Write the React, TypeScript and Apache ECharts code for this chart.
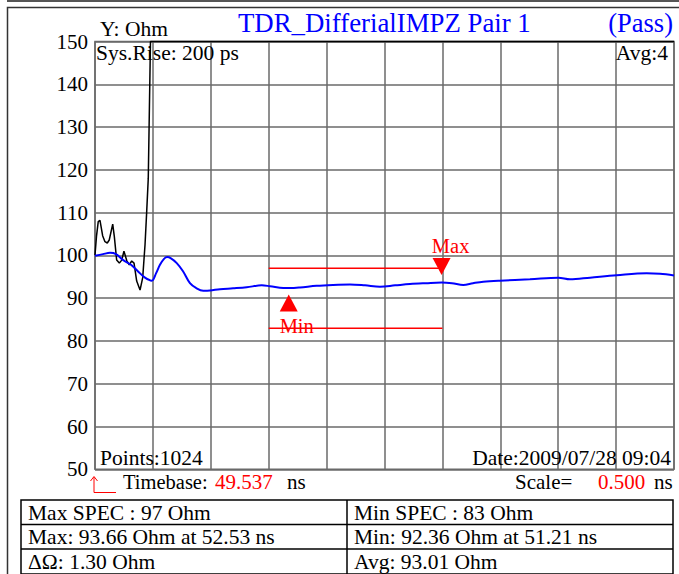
import React, { useEffect, useRef } from "react";
import * as echarts from "echarts";

// ---- data ----
const timebase = 49.537; // ns, left edge of plot
const scaleNs = 0.5; // ns per division
const divisions = 10;
const yMin = 50;
const yMax = 150;
const yStep = 10;

const blueTimes = [
  49.537, 49.606, 49.667, 49.718, 49.781, 49.848, 49.911, 49.969, 50.027, 50.064,
  50.098, 50.133, 50.161, 50.193, 50.243, 50.297, 50.357, 50.409, 50.472, 50.53,
  50.616, 50.729, 50.847, 50.977, 51.048, 51.163, 51.221, 51.307, 51.451, 51.592,
  51.739, 51.869, 51.998, 52.128, 52.257, 52.395, 52.531, 52.62, 52.717, 52.801,
  52.89, 53.034, 53.293, 53.538, 53.639, 53.812, 54.042, 54.301, 54.416, 54.537,
];
const blueValues = [
  99.9, 100.3, 100.6, 100.3, 98.9, 97.8, 96.2, 94.8, 94.1, 95.8,
  97.8, 99.2, 99.6, 99.3, 98.2, 96.3, 93.5, 92.4, 91.75, 91.8,
  92.1, 92.3, 92.55, 93.0, 92.8, 92.4, 92.36, 92.5, 92.9, 93.1,
  93.2, 93.0, 92.7, 93.0, 93.3, 93.5, 93.66, 93.5, 93.1, 93.5,
  93.85, 94.1, 94.4, 94.8, 94.4, 94.8, 95.35, 95.8, 95.7, 95.3,
];

const blackTimes = [
  49.537, 49.55, 49.565, 49.58, 49.603, 49.623, 49.643, 49.66, 49.69, 49.704,
  49.724, 49.747, 49.768, 49.787, 49.811, 49.833, 49.854, 49.874, 49.897, 49.926,
  49.949, 49.969, 49.983, 49.997, 50.016, 54.537,
];
const blackValues = [
  100.1, 104.5, 107.9, 108.2, 104.6, 103.2, 102.9, 103.6, 107.3, 104.4,
  98.9, 98.2, 98.9, 101.0, 98.8, 97.8, 98.7, 98.2, 94.0, 91.9,
  94.8, 102.5, 110.0, 118.0, 150, 150,
];

const maxSpec = 97;
const minSpec = 83;
const specStart = 51.037;
const specEnd = 52.537;
const maxPoint = [52.53, 93.66];
const minPoint = [51.21, 92.36];

const FONT = "'Liberation Serif', 'Times New Roman', serif";

function App() {
  const ref = useRef<HTMLDivElement>(null);
  useEffect(() => {
    if (!ref.current) return;
    const chart = echarts.init(ref.current, undefined, { renderer: "svg" });
    const off = (t: number) => +(t - timebase).toFixed(4);
    const blue = blueTimes.map((t, i) => [off(t), blueValues[i]]);
    const black = blackTimes.map((t, i) => [off(t), blackValues[i]]);
    const gridColor = "#6a6a6a";

    const txt = (
      text: string,
      x: number,
      y: number,
      opts: { size?: number; color?: string; align?: string } = {}
    ) => ({
      type: "text",
      x,
      y,
      silent: true,
      z: 10,
      style: {
        text,
        fontSize: opts.size || 21.5,
        fontFamily: FONT,
        fill: opts.color || "#000",
        align: opts.align || "left",
        verticalAlign: "middle",
      },
    });

    chart.setOption({
      animation: false,
      backgroundColor: "#fff",
      textStyle: { fontFamily: FONT },
      grid: {
        left: 95,
        top: 41.5,
        width: 579,
        height: 427.8,
        show: true,
        borderColor: gridColor,
        borderWidth: 1.5,
      },
      xAxis: {
        type: "value",
        min: 0,
        max: scaleNs * divisions,
        interval: scaleNs,
        axisLabel: { show: false },
        axisTick: { show: false },
        axisLine: { show: false },
        splitLine: { show: true, lineStyle: { color: gridColor, width: 1.5 } },
      },
      yAxis: {
        type: "value",
        min: yMin,
        max: yMax,
        interval: yStep,
        axisTick: { show: false },
        axisLine: { show: false },
        axisLabel: {
          color: "#000",
          fontSize: 21,
          fontFamily: FONT,
          margin: 7,
        },
        splitLine: { show: true, lineStyle: { color: gridColor, width: 1.5 } },
      },
      series: [
        {
          type: "line",
          name: "Max SPEC",
          data: [
            [off(specStart), maxSpec],
            [off(specEnd), maxSpec],
          ],
          symbol: "none",
          lineStyle: { color: "#ff0000", width: 1.5 },
          z: 3,
        },
        {
          type: "line",
          name: "Min SPEC",
          data: [
            [off(specStart), minSpec],
            [off(specEnd), minSpec],
          ],
          symbol: "none",
          lineStyle: { color: "#ff0000", width: 1.5 },
          z: 3,
        },
        {
          type: "line",
          name: "raw",
          data: black,
          symbol: "none",
          clip: false,
          lineStyle: { color: "#000", width: 1.5 },
          z: 4,
        },
        {
          type: "line",
          name: "IMPZ",
          data: blue,
          symbol: "none",
          smooth: 0.35,
          clip: true,
          lineStyle: { color: "#0000ff", width: 2 },
          z: 5,
        },
        {
          type: "scatter",
          name: "MaxMarker",
          data: [[off(maxPoint[0]), maxPoint[1]]],
          symbol: "triangle",
          symbolRotate: 180,
          symbolSize: [18, 17],
          symbolOffset: [0, -16],
          itemStyle: { color: "#ff0000", opacity: 1 },
          z: 6,
        },
        {
          type: "scatter",
          name: "MinMarker",
          data: [[off(minPoint[0]), minPoint[1]]],
          symbol: "triangle",
          symbolSize: [18, 17],
          symbolOffset: [0, 15],
          itemStyle: { color: "#ff0000", opacity: 1 },
          z: 6,
        },
        {
          type: "scatter",
          name: "MaxLabel",
          data: [[off(maxPoint[0]), maxPoint[1]]],
          symbolSize: 0,
          itemStyle: { opacity: 1 },
          label: {
            show: true,
            position: "inside",
            formatter: "Max",
            offset: [9, -37],
            color: "#ff0000",
            fontSize: 20.5,
            fontFamily: FONT,
          },
          z: 6,
        },
        {
          type: "scatter",
          name: "MinLabel",
          data: [[off(minPoint[0]), minPoint[1]]],
          symbolSize: 0,
          itemStyle: { opacity: 1 },
          label: {
            show: true,
            position: "inside",
            formatter: "Min",
            offset: [8, 38],
            color: "#ff0000",
            fontSize: 20.5,
            fontFamily: FONT,
          },
          z: 6,
        },
      ],
      graphic: [
        // outer frame
        {
          type: "line",
          silent: true,
          shape: { x1: 7, y1: 1, x2: 690, y2: 1 },
          style: { stroke: "#555", lineWidth: 2 },
        },
        {
          type: "rect",
          silent: true,
          shape: { x: 7.5, y: 7.5, width: 700, height: 600 },
          style: { fill: "none", stroke: "#333", lineWidth: 1.5 },
        },
        // header texts
        txt("Y: Ohm", 100, 29, { size: 21.5 }),
        txt("TDR_DifferialIMPZ Pair 1", 238, 23, { size: 26.8, color: "#0000ff" }),
        txt("(Pass)", 673, 23, { size: 26.5, color: "#0000ff", align: "right" }),
        txt("Sys.Rise: 200 ps", 96, 53),
        txt("Avg:4", 668, 53, { align: "right" }),
        txt("Points:1024", 100, 458),
        txt("Date:2009/07/28 09:04", 671, 458, { align: "right" }),
        // red corner arrow
        {
          type: "polyline",
          silent: true,
          shape: {
            points: [
              [94, 477],
              [94, 492.5],
              [116, 492.5],
            ],
          },
          style: { stroke: "#ff0000", lineWidth: 1, fill: "none" },
        },
        {
          type: "polyline",
          silent: true,
          shape: {
            points: [
              [90.5, 481],
              [94, 476.5],
              [97.5, 481],
            ],
          },
          style: { stroke: "#ff0000", lineWidth: 1, fill: "none" },
        },
        txt("Timebase:", 123, 482, { size: 20.5 }),
        txt("49.537", 215, 482, { size: 21, color: "#ff0000" }),
        txt("ns", 287, 482, { size: 21 }),
        txt("Scale=", 515, 482, { size: 21 }),
        txt("0.500", 598, 482, { size: 21, color: "#ff0000" }),
        txt("ns", 654, 482, { size: 21 }),
        // results table
        {
          type: "rect",
          silent: true,
          shape: { x: 21, y: 500, width: 652, height: 74 },
          style: { fill: "none", stroke: "#000", lineWidth: 1.5 },
        },
        {
          type: "line",
          silent: true,
          shape: { x1: 21, y1: 524.5, x2: 673, y2: 524.5 },
          style: { stroke: "#000", lineWidth: 1.5 },
        },
        {
          type: "line",
          silent: true,
          shape: { x1: 21, y1: 549, x2: 673, y2: 549 },
          style: { stroke: "#000", lineWidth: 1.5 },
        },
        {
          type: "line",
          silent: true,
          shape: { x1: 347, y1: 500, x2: 347, y2: 574 },
          style: { stroke: "#000", lineWidth: 1.5 },
        },
        txt("Max SPEC : 97 Ohm", 28, 513),
        txt("Max: 93.66 Ohm at 52.53 ns", 28, 537),
        txt("\u0394\u03A9: 1.30 Ohm", 28, 562),
        txt("Min SPEC : 83 Ohm", 354, 513),
        txt("Min: 92.36 Ohm at 51.21 ns", 354, 537),
        txt("Avg: 93.01 Ohm", 354, 562),
      ],
    });
    return () => chart.dispose();
  }, []);
  return (
    <div
      ref={ref}
      style={{ position: "fixed", left: 0, top: 0, width: 679, height: 574 }}
    />
  );
}

export default App;
